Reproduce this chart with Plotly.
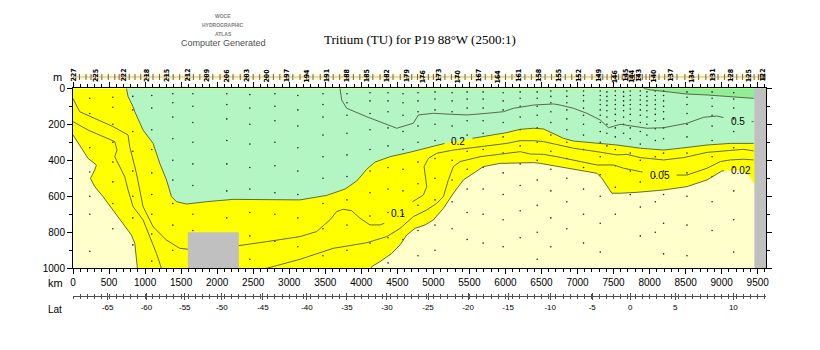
import plotly.graph_objects as go

# ---- isolines of tritium (TU): distance along track (km) and depth (m) ----
c002_km = [0, 93, 208, 325, 301, 242, 301, 417, 556, 694, 811, 857, 880, 894, 950, 2000, 3500, 4100,
           4144, 4260, 4422, 4538, 4630, 4746, 4885, 5000, 5139, 5278, 5417, 5556, 5694, 5926, 6204, 6389,
           6482, 6620, 7037, 7269, 7338, 7408, 7477, 7593, 7824, 8194, 8519, 8797, 9005, 9266, 9375, 9444]
c002_m = [259, 315, 389, 426, 454, 500, 546, 602, 676, 750, 815, 861, 935, 1000, 1080, 1100, 1100, 1030,
          991, 963, 917, 870, 815, 778, 759, 731, 667, 583, 509, 472, 435, 417, 413, 413,
          417, 426, 454, 472, 500, 541, 583, 583, 578, 565, 546, 509, 459, 454, 482, 530]

c005_km = [0, 208, 579, 611, 579, 718, 764, 833, 972, 1065, 1158, 1227, 1300, 2200, 2686, 3149, 3611,
           4075, 4353, 4538, 4722, 4908, 5047, 5139, 5208, 5278, 5371, 5649, 6019, 6204, 6343, 6528,
           6714, 6944, 7269, 7500, 7639, 7871, 8139, 8519, 8797, 8981, 9121, 9306, 9444]
c005_m = [185, 232, 296, 343, 380, 491, 565, 657, 731, 824, 917, 1000, 1060, 1060, 1000, 950, 889,
          858, 824, 778, 713, 676, 639, 602, 509, 435, 407, 380, 361, 352, 365, 367,
          380, 398, 426, 426, 444, 463, 482, 482, 444, 407, 398, 394, 398]

c01_km = [0, 93, 556, 764, 787, 880, 972, 1111, 1297, 1482, 1597, 2301, 2686, 3149, 3380, 3565, 3658,
          3750, 3866, 3982, 4121, 4260, 4375, 4514, 4630, 4769, 4861, 4908, 4885, 4871, 4931, 5047,
          5278, 5649, 6019, 6204, 6389, 6528, 6714, 6944, 7269, 7547, 7686, 7871, 8194, 8472, 8797,
          9121, 9306, 9444]
c01_m = [56, 130, 213, 259, 324, 472, 657, 769, 843, 889, 894, 874, 852, 824, 796, 731, 685,
         672, 680, 722, 759, 759, 741, 694, 648, 617, 593, 546, 482, 435, 389, 361,
         343, 324, 306, 291, 291, 296, 311, 333, 352, 370, 367, 385, 398, 385, 356,
         343, 339, 348]

c02_km = [741, 764, 833, 857, 972, 1111, 1204, 1297, 1367, 1436, 1575, 1853, 2222, 2686, 3149, 3519,
          3774, 3936, 4075, 4190, 4399, 4676, 5000, 5256, 5348, 5464, 5742, 6019, 6204, 6389, 6528,
          6667, 6806, 6944, 7269, 7547, 7871, 8194, 8426, 8797, 9121, 9444]
c02_m = [0, 46, 102, 130, 232, 306, 417, 509, 602, 630, 643, 630, 617, 620, 620, 595,
         560, 515, 450, 410, 380, 355, 321, 297, 293, 283, 265, 246, 228, 222, 226,
         250, 278, 293, 306, 315, 333, 343, 333, 315, 306, 306]

c05_km = [3704, 3728, 3797, 4075, 4492, 4722, 4792, 5000, 5232, 5464, 5742, 5972, 6111, 6389, 6667,
          6759, 6944, 7130, 7315, 7431, 7593, 7778, 7963, 8194, 8519, 8750, 8935, 9074, 9220, 9352, 9444]
c05_m = [0, 65, 111, 158, 222, 194, 148, 139, 144, 148, 139, 130, 111, 93, 87,
         93, 111, 139, 176, 219, 200, 209, 222, 219, 194, 161, 154, 167, 182, 185, 185]

c10_km = [7917, 8009, 8241, 8519, 8797, 9167, 9444]
c10_m = [0, 9, 19, 32, 37, 50, 56]

# ---- bottom topography (km, m) ----
ridge_km = [1593, 1593, 2301, 2301]
ridge_m = [1000, 800, 800, 1000]
wall_km = [9454, 9454, 9615, 9615]
wall_m = [1000, 0, 0, 1000]

# ---- isoline labels ----
lab_text = ["0.2", "0.1", "0.05", "0.02", "0.5"]
lab_km = [5348, 4514, 8139, 9266, 9220]
lab_m = [293, 694, 482, 454, 182]

# ---- stations ----
station_km = [0, 90, 180, 250, 311, 400, 490, 580, 640, 694, 780, 860, 940, 1019, 1110, 1200, 1297,
              1390, 1480, 1583, 1670, 1760, 1853, 1940, 2040, 2131, 2220, 2320, 2408, 2500, 2590,
              2686, 2780, 2870, 2964, 3050, 3150, 3242, 3330, 3430, 3519, 3610, 3700, 3797, 3890,
              3980, 4075, 4160, 4260, 4353, 4440, 4540, 4631, 4700, 4780, 4861, 4930, 5000, 5069,
              5160, 5250, 5347, 5440, 5530, 5625, 5720, 5810, 5903, 6000, 6090, 6181, 6270, 6360,
              6458, 6550, 6640, 6736, 6830, 6920, 7014, 7100, 7200, 7292, 7350, 7410, 7470, 7524,
              7570, 7620, 7662, 7700, 7730, 7756, 7790, 7820, 7847, 7900, 7950, 8000, 8056, 8130,
              8210, 8287, 8380, 8490, 8589, 8680, 8780, 8867, 8950, 9040, 9121, 9210, 9290, 9375,
              9450, 9510, 9540, 9561, 9580, 9600]
labelled_km = [0, 311, 694, 1019, 1297, 1583, 1853, 2131, 2408, 2686, 2964, 3242, 3519, 3797, 4075,
               4353, 4631, 4861, 5069, 5347, 5625, 5903, 6181, 6458, 6736, 7014, 7292, 7524, 7662,
               7756, 7847, 8056, 8287, 8589, 8867, 9121, 9375, 9561]
labelled_no = ["227", "225", "222", "218", "215", "212", "209", "206", "203", "200", "197", "194",
               "191", "188", "185", "182", "179", "176", "173", "170", "167", "164", "161", "158",
               "155", "152", "149", "146", "145", "144", "143", "140", "137", "134", "131", "128",
               "125", "122"]

# ---- bottle samples: station position (km) and sampled depths (m) ----
bottle_km = [233, 553, 830, 1093, 1385, 1663, 2134, 2454, 2801, 3120, 3468, 3801, 4121, 4371, 4579,
             4787, 5023, 5260, 5468, 5690, 5968, 6204, 6440, 6630, 6852, 7083, 7315, 7408, 7524,
             7639, 7732, 7871, 7963, 8079, 8194, 8519, 8867, 9167]
bottle_m = [
    [55, 140, 330, 465, 600, 700, 905],
    [50, 105, 200, 300, 410, 520, 640, 780],
    [45, 120, 240, 350, 460, 600, 720, 870],
    [40, 110, 230, 340, 470, 590, 700, 810, 960],
    [30, 80, 160, 280, 400, 510, 640, 760, 900],
    [30, 100, 190, 300, 420, 540, 700, 790],
    [30, 90, 170, 290, 420, 570, 720, 870],
    [35, 110, 200, 310, 440, 560, 690, 820, 950],
    [30, 100, 180, 300, 430, 580, 700, 850],
    [40, 120, 210, 330, 460, 590, 720, 880],
    [30, 90, 160, 260, 380, 500, 640, 780, 930],
    [30, 80, 150, 250, 370, 490, 620, 760, 900],
    [25, 70, 140, 230, 340, 460, 580, 710, 860],
    [25, 70, 130, 220, 320, 440, 560, 690, 830, 970],
    [30, 80, 150, 240, 340, 450, 570, 700, 840],
    [25, 70, 130, 210, 300, 410, 530, 650, 790, 930],
    [20, 60, 120, 200, 290, 390, 500, 620, 760, 900],
    [25, 70, 130, 210, 300, 400, 510, 630, 780],
    [20, 60, 110, 180, 260, 350, 450, 560, 690, 840],
    [20, 60, 110, 180, 250, 340, 440, 560, 700, 860],
    [25, 70, 120, 190, 270, 360, 470, 590, 730, 880],
    [20, 55, 100, 160, 230, 320, 420, 540, 680, 830],
    [20, 55, 100, 150, 220, 300, 400, 510, 650, 800, 950],
    [15, 45, 80, 130, 190, 260, 350, 450, 570, 720, 880],
    [15, 45, 80, 120, 170, 230, 300, 390, 500, 630, 780],
    [15, 40, 70, 110, 150, 200, 260, 340, 440, 560, 700, 860],
    [15, 40, 65, 90, 120, 150, 190, 240, 300, 380, 480, 600, 750, 910],
    [20, 45, 70, 95, 125, 160, 200, 250, 320],
    [15, 40, 65, 90, 115, 145, 180, 220, 270, 340, 430, 550, 700],
    [20, 45, 70, 95, 125, 160, 200, 250],
    [15, 40, 65, 90, 115, 145, 180, 220, 280, 360, 460, 590],
    [15, 40, 65, 90, 120, 150, 190, 240, 310, 400, 520, 660, 820],
    [20, 45, 70, 95, 125, 160, 200, 260],
    [15, 40, 65, 90, 115, 145, 180, 225, 290, 380, 490, 630, 800],
    [15, 40, 70, 100, 130, 170, 220, 280, 360, 460, 590, 750, 920],
    [20, 50, 90, 140, 200, 270, 360, 470, 600, 760, 930],
    [20, 55, 100, 150, 210, 290, 380, 490, 630, 790],
    [25, 60, 110, 170, 240, 330, 440, 570, 730, 910],
]

# ---- latitude axis ----
lat_labels = ["-65", "-60", "-55", "-50", "-45", "-40", "-35", "-30", "-25", "-20", "-15", "-10",
              "-5", "0", "5", "10"]
lat_km = [482, 1019, 1551, 2065, 2635, 3246, 3801, 4356, 4926, 5482, 6037, 6621, 7204, 7731, 8357, 9162]

XMAX = 9615
CREAM, YELLOW, GREEN, DKGREEN, GREY = "#FFFFCC", "#FFFF00", "#B4F5C4", "#92EE96", "#C0C0C0"
LINE = "#4f5a3c"

# page geometry helpers (pixels -> paper fractions)
L, R, T, B = 73, 766, 55, 320
def xp(px):
    return (px - L) / (R - L)
def yp(py):
    return (B - py) / (B - T)


def region_above(km, m, x0=None, x1=XMAX):
    """Polygon covering everything shallower than an isoline."""
    if x0 is None or x0 == km[0]:
        xs = [km[0]] + list(km) + [x1, x1, km[0]]
        ys = [0] + list(m) + [m[-1], 0, 0]
    else:
        xs = [x0, x0] + list(km) + [x1, x1]
        ys = [0, m[0]] + list(m) + [m[-1], 0]
    return xs, ys


def with_gap(km, m, cx, half):
    """Break a polyline where its label is written."""
    xs, ys = [], []
    lo, hi = cx - half, cx + half
    for i in range(len(km)):
        x, y = km[i], m[i]
        ins = lo < x < hi
        if i > 0:
            x0, y0 = km[i - 1], m[i - 1]
            ins0 = lo < x0 < hi
            if not ins0 and ins:
                e = lo if x0 <= lo else hi
                t = (e - x0) / (x - x0)
                xs += [e, None]; ys += [y0 + t * (y - y0), None]
            elif ins0 and not ins:
                e = hi if x >= hi else lo
                t = (e - x0) / (x - x0)
                xs.append(e); ys.append(y0 + t * (y - y0))
            elif not ins0 and not ins and (x0 - cx) * (x - cx) < 0:
                e1, e2 = (lo, hi) if x0 < x else (hi, lo)
                t1 = (e1 - x0) / (x - x0); t2 = (e2 - x0) / (x - x0)
                xs += [e1, None, e2]; ys += [y0 + t1 * (y - y0), None, y0 + t2 * (y - y0)]
        if not ins:
            xs.append(x); ys.append(y)
    return xs, ys


fig = go.Figure()

# colour bands
for (km, m, col, x0) in [(c002_km, c002_m, YELLOW, 0), (c02_km, c02_m, GREEN, None),
                         (c10_km, c10_m, DKGREEN, None)]:
    xs, ys = region_above(km, m, x0)
    fig.add_trace(go.Scatter(x=xs, y=ys, mode="lines", fill="toself", fillcolor=col,
                             line=dict(width=0), hoverinfo="skip", showlegend=False))

# bottle sample positions
bx, by = [], []
for k, depths in zip(bottle_km, bottle_m):
    bx += [k] * len(depths)
    by += depths
fig.add_trace(go.Scatter(x=bx, y=by, mode="markers", marker=dict(size=1.6, color="#202020"),
                         hoverinfo="skip", showlegend=False))

# isolines
label_of = {"0.2": c02_km, "0.1": c01_km, "0.05": c005_km, "0.02": c002_km, "0.5": c05_km}
for km, m in [(c002_km, c002_m), (c005_km, c005_m), (c01_km, c01_m), (c02_km, c02_m),
              (c05_km, c05_m), (c10_km, c10_m)]:
    xs, ys = list(km), list(m)
    for t, cx in zip(lab_text, lab_km):
        if label_of[t] is km:
            xs, ys = with_gap(xs, ys, cx, 75 + 40 * len(t))
    fig.add_trace(go.Scatter(x=xs, y=ys, mode="lines", line=dict(color=LINE, width=0.9),
                             hoverinfo="skip", showlegend=False))

# topography
for xs, ys in [(ridge_km, ridge_m), (wall_km, wall_m)]:
    fig.add_trace(go.Scatter(x=xs, y=ys, mode="lines", fill="toself", fillcolor=GREY,
                             line=dict(width=0), hoverinfo="skip", showlegend=False))

# station row
fig.add_trace(go.Scatter(x=station_km, y=[0] * len(station_km), yaxis="y2", mode="lines+markers",
                         line=dict(color="#9a8a8a", width=0.6),
                         marker=dict(symbol="line-ns", size=5, line=dict(color="#8a5555", width=1)),
                         hoverinfo="skip", showlegend=False))
# dummy traces so the latitude axes are drawn
for ax in ["x2", "x3"]:
    fig.add_trace(go.Scatter(x=[0], y=[None], xaxis=ax, mode="markers", showlegend=False,
                             hoverinfo="skip"))

ann = []
for t, x, y in zip(lab_text, lab_km, lab_m):
    ann.append(dict(x=x, y=y, xref="x", yref="y", text=t, showarrow=False,
                    font=dict(family="Liberation Sans", size=10, color="black")))
for k, n in zip(labelled_km, labelled_no):
    ann.append(dict(x=k, y=yp(67), xref="x", yref="paper", text="<b>" + n + "</b>", textangle=-90,
                    showarrow=False, font=dict(family="DejaVu Sans Condensed", size=7, color="black")))

def txt(s, px, py, size, color="black", family="Liberation Sans", xanchor="center"):
    ann.append(dict(x=xp(px), y=yp(py), xref="paper", yref="paper", text=s, showarrow=False,
                    xanchor=xanchor, yanchor="middle", font=dict(family=family, size=size, color=color)))

txt("Tritium (TU) for P19 88°W (2500:1)", 420, 39, 13, family="Liberation Serif")
txt("<b>WOCE</b>", 223, 16, 5, "#808080")
txt("<b>HYDROGRAPHIC</b>", 223, 25, 5, "#808080")
txt("<b>ATLAS</b>", 223, 34, 5, "#808080")
txt("Computer Generated", 223, 43, 9, "#505050")
txt("m", 57, 77, 11)
txt("km", 55, 283, 11)
txt("Lat", 55, 309, 10)

tickfont = dict(family="Liberation Sans", size=10, color="black")
fig.update_layout(
    width=820, height=350, margin=dict(l=L, r=820 - R, t=T, b=350 - B),
    paper_bgcolor="white", plot_bgcolor=CREAM, annotations=ann,
    xaxis=dict(range=[0, XMAX], domain=[0, 1], anchor="y", showgrid=False, zeroline=False,
               showline=True, linecolor="black", linewidth=1, mirror="ticks",
               ticks="outside", ticklen=5, tickcolor="black", tick0=0, dtick=500,
               minor=dict(dtick=100, ticklen=3, ticks="outside", tickcolor="black"),
               tickfont=tickfont),
    yaxis=dict(range=[1000, 0], domain=[yp(268.3), yp(88.3)], anchor="x", showgrid=False,
               zeroline=False, showline=True, linecolor="black", linewidth=1, mirror="ticks",
               ticks="outside", ticklen=5, tickcolor="black", tick0=0, dtick=200,
               minor=dict(dtick=100, ticklen=3, ticks="outside", tickcolor="black"),
               tickfont=tickfont),
    yaxis2=dict(range=[-1, 1], domain=[yp(80), yp(74)], anchor="x", visible=False),
    xaxis2=dict(range=[0, XMAX], overlaying="x", anchor="free", position=yp(296), showgrid=False,
                zeroline=False, showline=True, linecolor="#505050", linewidth=1,
                ticks="outside", ticklen=3, tickcolor="#505050", tickvals=lat_km, ticktext=lat_labels,
                minor=dict(dtick=100, ticklen=2, ticks="outside", tickcolor="#505050"),
                tickfont=dict(family="Liberation Sans", size=8, color="black")),
    xaxis3=dict(range=[0, XMAX], overlaying="x", anchor="free", position=yp(296), showgrid=False,
                zeroline=False, showline=False, ticks="inside", ticklen=3, tickcolor="#505050",
                tickvals=lat_km, showticklabels=False,
                minor=dict(dtick=100, ticklen=2, ticks="inside", tickcolor="#505050")),
)

fig.write_html("out.html")
